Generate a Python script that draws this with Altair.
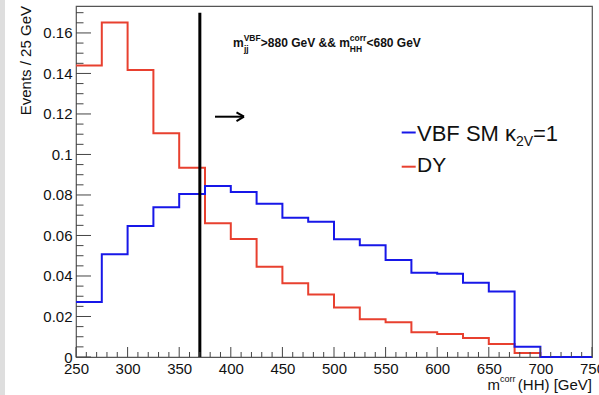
import altair as alt
import pandas as pd

# ---------------- data ----------------
bin_low = [250, 275, 300, 325, 350, 375, 400, 425, 450, 475,
           500, 525, 550, 575, 600, 625, 650, 675, 700, 725]
x_max = 750
vbf = [0.0272, 0.0507, 0.0647, 0.0739, 0.0805, 0.0844, 0.0815, 0.0757, 0.0688, 0.0668,
       0.0581, 0.0552, 0.0479, 0.0416, 0.0411, 0.0367, 0.0323, 0.0051, 0.0, 0.0]
dy = [0.1439, 0.1651, 0.1417, 0.1105, 0.0935, 0.0660, 0.0583, 0.0446, 0.0364, 0.0308,
      0.0245, 0.0187, 0.0171, 0.0122, 0.0114, 0.0094, 0.0064, 0.0020, 0.0, 0.0]
cut_x = 370
cut_top = 0.170
x_major = [250, 300, 350, 400, 450, 500, 550, 600, 650, 700, 750]
x_minor = [v for v in range(250, 751, 10) if v % 50 != 0]
y_major = [0, 0.02, 0.04, 0.06, 0.08, 0.10, 0.12, 0.14, 0.16]
y_minor = [round(0.005 * i, 3) for i in range(0, 35) if i % 4 != 0]
y_max = 0.1733

# ---------------- layout ----------------
W, H = 516, 351
L, T = 76, 6
FONT = "Liberation Sans"
BLUE = "#1717e8"
RED = "#e8402f"
TXT = "#111111"


def px(x):
    return x - L


def py(y):
    return y - T


xs = alt.Scale(domain=[250, x_max], nice=False, zero=False)
ys = alt.Scale(domain=[0, y_max], nice=False, zero=True)

AX = alt.Axis(values=x_major, ticks=False, domain=False, grid=False,
              labelFontSize=15, labelFont=FONT, labelColor=TXT,
              labelPadding=4, labelOverlap=False, labelFlush=False, title=None)
AY = alt.Axis(values=y_major, format=".2~f", ticks=False, domain=False,
              grid=False, labelFontSize=15, labelFont=FONT,
              labelColor=TXT, labelPadding=4, labelOverlap=False, title=None)


def step_df(vals):
    return pd.DataFrame({"x": bin_low + [x_max], "y": vals + [vals[-1]]})


def label(text, x, y, size, weight="normal", align="left", baseline="alphabetic", angle=None, color=TXT):
    kw = dict(align=align, baseline=baseline, fontSize=size, font=FONT, fontWeight=weight, color=color)
    if angle is not None:
        kw["angle"] = angle
    return alt.Chart(pd.DataFrame({"t": [text]})).mark_text(**kw).encode(
        x=alt.value(px(x)), y=alt.value(py(y)), text="t:N")


def seg(x1, y1, x2, y2, color, width):
    return alt.Chart(pd.DataFrame({"a": [0]})).mark_rule(color=color, strokeWidth=width).encode(
        x=alt.value(px(x1)), y=alt.value(py(y1)), x2=alt.value(px(x2)), y2=alt.value(py(y2)))


red_line = alt.Chart(step_df(dy)).mark_line(interpolate="step-after", color=RED, strokeWidth=2).encode(
    x=alt.X("x:Q", scale=xs, axis=AX), y=alt.Y("y:Q", scale=ys, axis=AY))

blue_line = alt.Chart(step_df(vbf)).mark_line(interpolate="step-after", color=BLUE, strokeWidth=2).encode(
    x=alt.X("x:Q", scale=xs, axis=AX), y=alt.Y("y:Q", scale=ys, axis=AY))

cut = alt.Chart(pd.DataFrame({"x": [cut_x], "y": [0.0], "y1": [cut_top]})).mark_rule(
    color="#000000", strokeWidth=3).encode(
    x=alt.X("x:Q", scale=xs, axis=AX), y=alt.Y("y:Q", scale=ys, axis=AY), y2="y1:Q")

TICK = "#444444"
ytm = alt.Chart(pd.DataFrame({"y": y_major})).mark_rule(color=TICK, strokeWidth=1).encode(
    y=alt.Y("y:Q", scale=ys, axis=AY), x=alt.value(0), x2=alt.value(15))
ytn = alt.Chart(pd.DataFrame({"y": y_minor})).mark_rule(color=TICK, strokeWidth=1).encode(
    y=alt.Y("y:Q", scale=ys, axis=AY), x=alt.value(0), x2=alt.value(7.5))
xtm = alt.Chart(pd.DataFrame({"x": x_major})).mark_rule(color=TICK, strokeWidth=1).encode(
    x=alt.X("x:Q", scale=xs, axis=AX), y=alt.value(H), y2=alt.value(H - 10))
xtn = alt.Chart(pd.DataFrame({"x": x_minor})).mark_rule(color=TICK, strokeWidth=1).encode(
    x=alt.X("x:Q", scale=xs, axis=AX), y=alt.value(H), y2=alt.value(H - 5))

band = alt.Chart(pd.DataFrame({"a": [0]})).mark_rect(color="#dedede").encode(
    x=alt.value(-L), x2=alt.value(-L + 5), y=alt.value(-T), y2=alt.value(395 - T))

# titles
ytitle = label("Events / 25 GeV", 31, 6, 15, align="right", angle=270)
xt_m = label("m", 487.5, 390, 15, align="left")
xt_sup = label("corr", 500, 382, 9, align="left")
xt_rest = label("(HH) [GeV]", 592, 390, 15, align="right")

# cut text (bold)
S, s = 12, 8.5
cx = 233
c1 = label("m", cx, 47, S, weight="bold")
c2 = label("VBF", cx + 10.7, 41, s, weight="bold")
c3 = label("jj", cx + 10.9, 52, s, weight="bold")
c4 = label(">880 GeV && m", cx + 27.8, 47, S, weight="bold")
c5 = label("corr", cx + 116.8, 41, s, weight="bold")
c6 = label("HH", cx + 116.8, 52, s, weight="bold")
c7 = label("<680 GeV", cx + 133.5, 47, S, weight="bold")

# arrow
a1 = seg(215, 116.7, 244, 116.7, "#000000", 2)
a2 = seg(244, 116.7, 236.5, 112.3, "#000000", 2)
a3 = seg(244, 116.7, 236.5, 121.1, "#000000", 2)

# legend
lg1 = seg(401.7, 132.5, 415.7, 132.5, BLUE, 2)
lt1 = label("VBF SM κ", 417, 141, 22)
lt1s = label("2V", 516, 146, 14)
lt1e = label("=1", 533, 141, 22)
lg2 = seg(401.7, 166.7, 415.7, 166.7, RED, 2)
lt2 = label("DY", 417, 172, 21)

chart = alt.layer(
    band, red_line, blue_line, cut, ytm, ytn, xtm, xtn,
    ytitle, xt_m, xt_sup, xt_rest,
    c1, c2, c3, c4, c5, c6, c7,
    a1, a2, a3, lg1, lt1, lt1s, lt1e, lg2, lt2
).properties(
    width=W, height=H,
    padding={"left": L, "top": T, "right": 599 - L - W, "bottom": 395 - T - H},
    autosize=alt.AutoSizeParams(type="none"),
    background="white",
).configure_view(stroke="#555555", strokeWidth=1.2)

chart.save("out.html", embed_options={"renderer": "svg", "actions": False})
